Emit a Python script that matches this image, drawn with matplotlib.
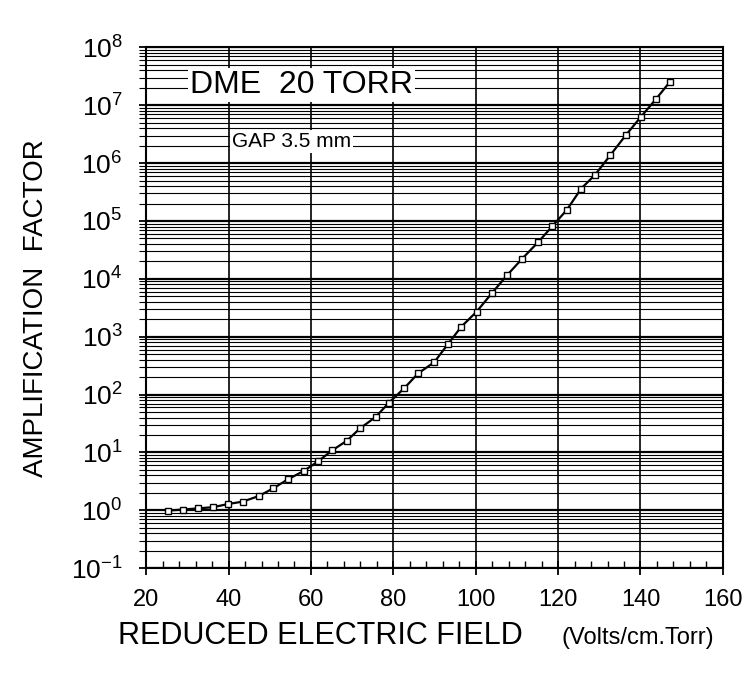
import numpy as np
import matplotlib
matplotlib.use("Agg")
import matplotlib.pyplot as plt
from matplotlib.ticker import LogLocator, LogFormatterMathtext, MultipleLocator, NullFormatter

plt.rcParams['font.family'] = ['Liberation Sans', 'DejaVu Sans']

# reduced field (V/cm.Torr) and gain
field = [25.3, 29.0, 32.6, 36.2, 39.8, 43.4, 47.4, 50.9, 54.4, 58.3,
         61.7, 65.2, 68.7, 71.9, 75.7, 78.9, 82.7, 86.0, 89.9, 93.2,
         96.5, 100.2, 104.0, 107.7, 111.3, 115.1, 118.6, 122.1, 125.6, 129.0,
         132.7, 136.4, 140.1, 143.8, 147.2]
gain = [0.99, 1.03, 1.08, 1.13, 1.28, 1.41, 1.77, 2.41, 3.43, 4.8,
        7.0, 10.9, 15.9, 26.0, 41.0, 72.0, 130.0, 232.0, 361.0, 736.0,
        1490.0, 2700.0, 5750.0, 11750.0, 22400.0, 42700.0, 81300.0, 1.55e5, 3.63e5, 6.31e5,
        1.38e6, 3.02e6, 6.31e6, 1.29e7, 2.57e7]

fig = plt.figure(figsize=(7.46, 6.87), dpi=100)
ax = fig.add_axes([0.196, 0.173, 0.773, 0.758])

ax.set_yscale('log')
ax.set_xlim(20, 160)
ax.set_ylim(1e-1, 1e8)

ax.yaxis.set_major_locator(LogLocator(base=10, numticks=20))
ax.yaxis.set_minor_locator(LogLocator(base=10, subs=np.arange(2, 10), numticks=200))
ax.yaxis.set_major_formatter(LogFormatterMathtext())
ax.yaxis.set_minor_formatter(NullFormatter())
ax.xaxis.set_major_locator(MultipleLocator(20))
ax.xaxis.set_minor_locator(MultipleLocator(4))

ax.grid(which='major', axis='y', color='black', lw=1.6)
ax.grid(which='minor', axis='y', color='black', lw=0.8)
ax.grid(which='major', axis='x', color='black', lw=1.2)

ax.plot(field, gain, color='black', lw=1.6, marker='s', ms=4.5,
        mfc='white', mec='black', mew=1.0, zorder=5)

ax.text(57.7, 10**7.35, 'DME  20 TORR', fontsize=23, ha='center', va='center',
        bbox=dict(facecolor='white', edgecolor='none', pad=1.5), zorder=6)
ax.text(55.3, 10**6.38, 'GAP 3.5 mm', fontsize=15, ha='center', va='center',
        bbox=dict(facecolor='white', edgecolor='none', pad=1.5), zorder=6)

for s in ax.spines.values():
    s.set_linewidth(1.5)

ax.tick_params(which='major', axis='both', direction='inout', length=10, width=1.3,
               labelsize=17, colors='black')
ax.tick_params(axis='y', labelsize=19, pad=12)
ax.tick_params(axis='x', pad=10)
ax.tick_params(which='minor', axis='x', direction='in', length=5, width=1.0)
ax.tick_params(which='minor', axis='y', direction='out', length=5, width=0.8)

ax.set_ylabel('AMPLIFICATION  FACTOR', fontsize=20, labelpad=16)
fig.text(0.43, 0.062, 'REDUCED ELECTRIC FIELD', fontsize=22, ha='center', va='baseline')
fig.text(0.855, 0.062, '(Volts/cm.Torr)', fontsize=17, ha='center', va='baseline')

fig.savefig('out.png', dpi=100)
